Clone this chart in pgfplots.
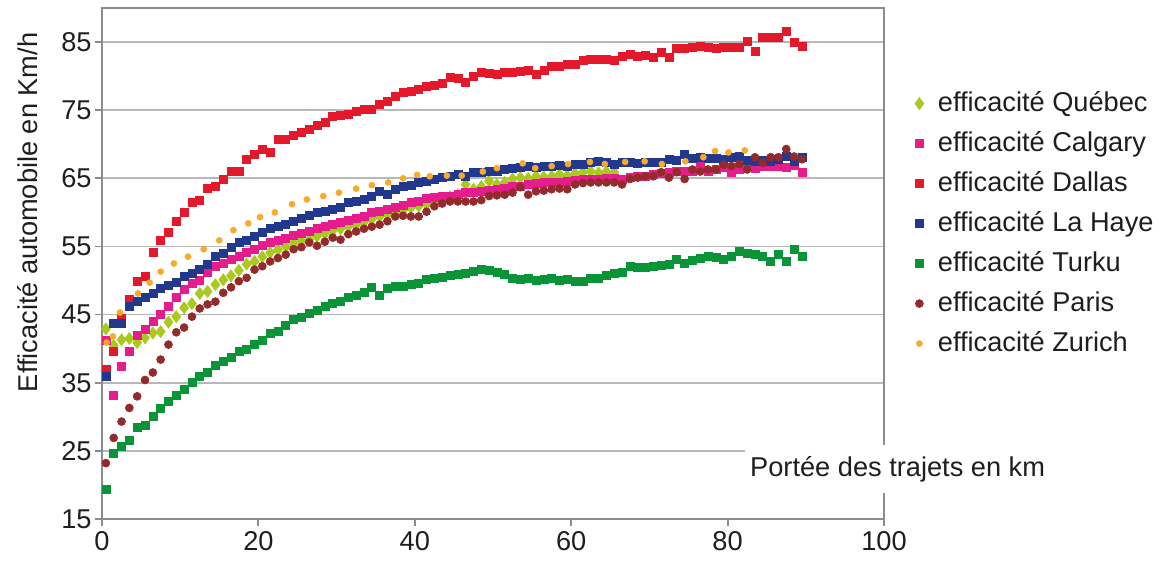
\documentclass[border=0pt]{standalone}
\usepackage{fontspec}
\setmainfont{Liberation Sans}
\usepackage{pgfplots}
\pgfplotsset{compat=1.18}
\usepackage{pgfplotstable}
\definecolor{cqc}{HTML}{A9C91E}
\definecolor{ccal}{HTML}{E51C8C}
\definecolor{cdal}{HTML}{E3182B}
\definecolor{clah}{HTML}{22388F}
\definecolor{ctur}{HTML}{0A9438}
\definecolor{cpar}{HTML}{932B2B}
\definecolor{czur}{HTML}{F8AA28}
\definecolor{txt}{HTML}{1E1E1E}

\pgfplotstableread{
x qc cal dal lah tur par
0.5 42.9 41.2 36.9 36.0 19.4 23.2
1.5 40.5 33.1 39.6 43.7 24.7 26.9
2.5 41.3 37.4 44.5 43.7 25.6 29.3
3.5 41.5 39.6 47.2 46.2 26.5 31.3
4.5 40.9 41.9 49.9 46.9 28.4 33.0
5.5 41.6 42.8 50.6 47.5 28.7 35.4
6.5 42.3 44.0 54.1 48.1 30.0 36.5
7.5 42.5 45.0 55.9 48.8 31.3 38.4
8.5 43.9 46.2 57.1 49.3 32.3 40.6
9.5 44.7 47.5 58.7 49.7 33.1 42.4
10.5 46.0 48.7 60.0 50.6 34.1 43.1
11.5 46.6 49.6 61.5 51.0 35.0 44.7
12.5 48.1 50.1 61.8 51.6 36.0 45.9
13.5 48.4 51.2 63.5 52.4 36.6 46.5
14.5 49.4 52.1 63.8 53.5 37.5 46.9
15.5 50.1 52.6 64.9 54.0 38.2 48.2
16.5 50.7 53.1 66.0 54.9 38.8 49.0
17.5 51.5 53.5 66.0 55.6 39.6 49.9
18.5 52.4 54.1 67.8 55.9 39.9 50.4
19.5 52.8 54.6 68.5 56.5 40.6 51.6
20.5 53.5 55.1 69.3 57.1 41.2 52.1
21.5 54.1 55.6 68.8 57.6 42.2 52.8
22.5 54.5 55.9 70.7 58.0 42.5 53.3
23.5 55.0 56.2 70.7 58.3 43.4 53.8
24.5 55.5 56.6 71.3 58.7 44.3 54.6
25.5 55.8 57.0 71.8 59.1 44.6 54.9
26.5 56.0 57.2 72.2 59.6 45.2 55.6
27.5 56.5 57.6 72.8 60.0 45.6 55.1
28.5 56.9 57.9 73.2 60.2 46.2 55.7
29.5 57.3 58.2 74.1 60.5 46.6 56.3
30.5 57.6 58.5 74.3 60.7 47.0 56.0
31.5 57.9 58.8 74.4 61.5 47.5 56.8
32.5 58.2 59.1 74.8 61.6 47.9 57.2
33.5 58.6 59.5 75.1 61.9 48.2 57.6
34.5 59.0 60.0 75.1 62.3 49.0 57.9
35.5 59.4 60.1 75.9 63.1 47.9 58.2
36.5 59.7 60.5 76.3 62.6 48.8 58.7
37.5 60.0 60.8 77.1 63.4 49.1 59.4
38.5 60.3 61.0 77.6 63.8 49.1 59.5
39.5 60.7 61.5 77.8 64.0 49.4 59.4
40.5 60.9 61.6 78.0 64.4 49.6 59.4
41.5 61.2 62.0 78.5 64.6 50.2 60.1
42.5 61.6 62.2 78.6 64.9 50.4 60.9
43.5 61.9 62.3 79.0 65.2 50.5 61.3
44.5 62.3 62.4 79.8 65.3 50.7 61.6
45.5 62.6 62.7 79.7 65.6 50.9 61.6
46.5 64.1 62.9 79.1 65.3 51.0 61.6
47.5 63.4 63.0 80.0 65.9 51.4 61.6
48.5 63.8 63.1 80.6 65.9 51.6 61.8
49.5 64.6 63.2 80.4 66.0 51.5 62.4
50.5 64.1 63.4 80.3 66.0 51.2 62.5
51.5 64.4 63.5 80.5 66.3 50.9 62.6
52.5 64.9 63.8 80.6 66.4 50.3 62.9
53.5 65.1 63.9 80.7 66.6 50.2 63.7
54.5 65.0 64.1 80.9 66.8 50.3 62.6
55.5 65.3 64.2 80.3 66.6 50.1 63.1
56.5 65.2 64.4 80.8 66.8 50.2 63.2
57.5 65.3 64.4 81.5 66.8 50.4 63.4
58.5 65.6 64.4 81.5 66.9 50.1 63.5
59.5 65.4 64.5 81.7 66.8 50.2 63.4
60.5 65.7 64.7 81.8 67.1 49.9 64.1
61.5 65.9 64.8 82.3 67.1 49.9 64.3
62.5 66.0 64.9 82.5 67.4 50.3 64.4
63.5 65.8 64.9 82.5 67.5 50.4 64.4
64.5 66.0 65.0 82.5 67.4 50.8 64.4
65.5 65.9 65.0 82.3 67.1 51.0 64.4
66.5 nan 64.9 82.9 67.4 51.2 64.1
67.5 nan 65.2 83.2 67.3 52.1 64.9
68.5 nan 65.3 82.9 67.2 51.9 65.1
69.5 nan 65.3 83.0 67.3 52.0 65.3
70.5 nan 65.6 82.8 67.3 52.1 65.3
71.5 nan 65.8 83.5 67.4 52.3 65.9
72.5 nan 65.9 82.8 67.8 52.4 65.1
73.5 nan 66.0 84.1 67.6 53.1 65.9
74.5 nan 66.0 84.1 68.5 52.6 64.9
75.5 nan 66.1 84.3 67.9 52.9 66.3
76.5 nan 66.8 84.4 68.1 53.2 66.0
77.5 nan 66.0 84.2 67.9 53.5 66.3
78.5 nan 66.3 84.1 68.0 53.4 66.3
79.5 nan 66.6 84.3 67.8 53.1 67.0
80.5 nan 65.9 84.2 68.1 53.6 66.8
81.5 nan 66.3 84.3 68.2 54.3 67.1
82.5 nan 66.8 85.1 67.6 54.0 66.3
83.5 nan 66.5 83.7 67.5 53.8 68.1
84.5 nan 66.8 85.7 67.6 53.6 67.3
85.5 nan 66.8 85.7 67.5 52.8 68.1
86.5 nan 66.7 85.7 67.8 53.8 68.1
87.5 nan 66.6 86.6 68.2 52.8 69.3
88.5 nan 66.9 85.0 67.5 54.6 68.2
89.5 nan 65.9 84.4 68.1 53.5 67.8
}\cities

\pgfplotstableread{
x y
0.6 40.9
1.4 41.8
2.3 45.3
4.6 48.1
6.1 49.7
7.5 51.3
9.2 52.5
11.0 53.5
13.0 54.6
15.0 55.9
16.8 57.4
18.7 58.4
20.2 59.3
22.1 60.0
24.3 61.2
26.2 61.9
28.3 62.4
30.3 62.9
32.5 63.5
34.5 64.0
36.6 64.4
38.5 65.0
40.3 65.5
41.9 65.3
44.1 65.4
46.0 65.4
48.7 66.0
50.5 66.5
53.8 67.2
55.4 66.5
57.5 66.8
59.6 67.1
62.4 67.4
64.3 67.1
66.9 67.4
69.4 67.5
71.6 67.1
74.6 67.5
76.9 68.1
78.4 69.0
80.1 68.8
82.2 69.1
}\zurich

\begin{document}
\begin{tikzpicture}
\begin{axis}[
  at={(0pt,0pt)}, anchor=south west,
  scale only axis, width=391pt, height=255.5pt,
  xmin=0, xmax=100, ymin=15, ymax=90,
  xtick={0,20,...,100}, ytick={15,25,...,85},
  ymajorgrids,
  grid style={draw=black!28, line width=0.9pt},
  axis line style={draw=black!45, line width=0.9pt},
  tick style={draw=black!45, line width=0.9pt},
  tick align=outside, major tick length=3.5pt,
  xtick pos=bottom, ytick pos=left,
  font=\fontsize{13.6}{16}\selectfont,
  /pgf/number format/assume math mode=true,
  ticklabel style={font=\fontsize{13.6}{16}\selectfont, text=txt},
  yticklabel style={inner xsep=1.5pt},
  xticklabel style={inner ysep=2.5pt},
  ylabel={Efficacité automobile en Km/h},
  ylabel style={at={(axis description cs:-0.0946,0.60)}, anchor=center, text=txt},
  legend cell align=left,
  legend style={at={(axis description cs:1.039,0.848)}, anchor=north west,
    draw=none, fill=none, inner sep=0pt, row sep=2.5pt, column sep=5pt,
    nodes={inner sep=2pt, text height=10.5pt, text depth=3pt, text=txt},
    font=\fontsize{13.6}{16}\selectfont},
]
\addplot[only marks, mark=diamond*, mark size=3pt, mark options={draw=cqc, fill=cqc, line width=0.3pt}] table[x=x, y=qc] {\cities};
\addlegendentry{efficacité Québec}
\addplot[only marks, mark=square*, mark size=2pt, mark options={draw=ccal, fill=ccal, line width=0.3pt}] table[x=x, y=cal] {\cities};
\addlegendentry{efficacité Calgary}
\addplot[only marks, mark=square*, mark size=2pt, mark options={draw=cdal, fill=cdal, line width=0.3pt}] table[x=x, y=dal] {\cities};
\addlegendentry{efficacité Dallas}
\addplot[only marks, mark=square*, mark size=2pt, mark options={draw=clah, fill=clah, line width=0.3pt}] table[x=x, y=lah] {\cities};
\addlegendentry{efficacité La Haye}
\addplot[only marks, mark=square*, mark size=2pt, mark options={draw=ctur, fill=ctur, line width=0.3pt}] table[x=x, y=tur] {\cities};
\addlegendentry{efficacité Turku}
\addplot[only marks, mark=*, mark size=2pt, mark options={draw=cpar, fill=cpar, line width=0.3pt}] table[x=x, y=par] {\cities};
\addlegendentry{efficacité Paris}
\addplot[only marks, mark=*, mark size=1.5pt, mark options={draw=czur, fill=czur, line width=0.3pt}] table[x=x, y=y] {\zurich};
\addlegendentry{efficacité Zurich}
\coordinate (xl) at (axis description cs:0.822,0.098);
\end{axis}
\node[fill=white, anchor=west, inner xsep=2.5pt, minimum height=24pt, text=txt, font=\fontsize{13.6}{16}\selectfont] at (xl) {Portée des trajets en km};
\pgfresetboundingbox
\path[use as bounding box] (-51pt,-23.5pt) rectangle (533pt,259.5pt);
\end{tikzpicture}
\end{document}
